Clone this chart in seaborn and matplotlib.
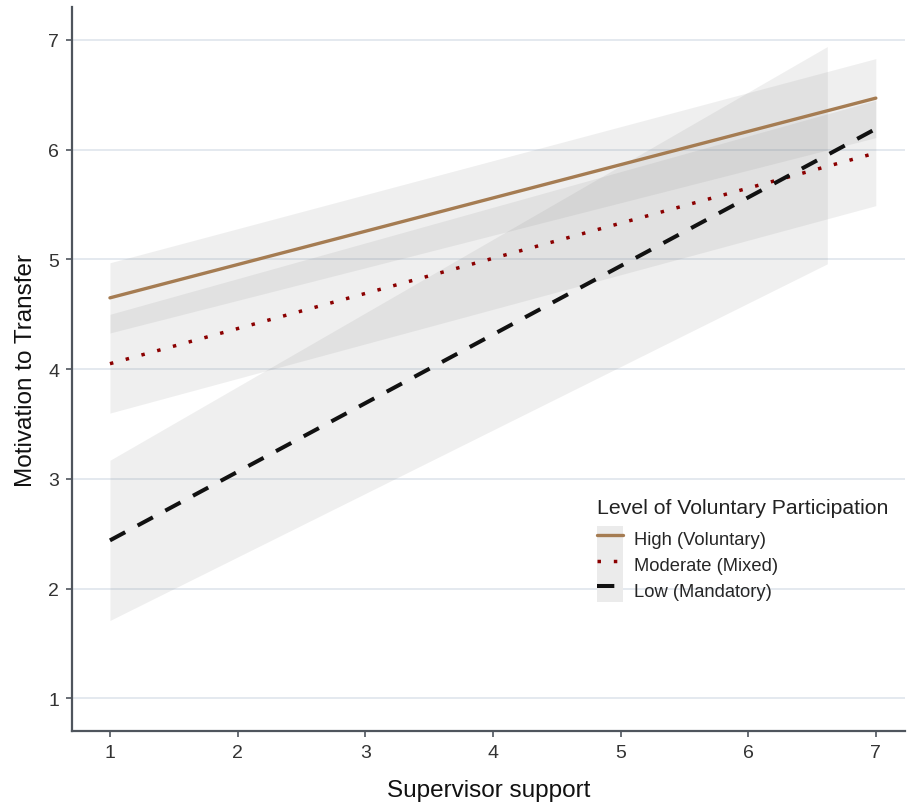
import pandas as pd
import matplotlib
matplotlib.use("Agg")
import matplotlib.pyplot as plt
import seaborn as sns
from matplotlib.patches import Patch
from matplotlib.lines import Line2D

# fitted lines at the ends of the support scale
support = [1, 7]
high_fit = [4.65, 6.47]
moderate_fit = [4.05, 5.97]
low_fit = [2.44, 6.19]

# confidence bands
high_band_x = [1, 7]
high_lo = [4.33, 6.11]
high_hi = [4.97, 6.83]
moderate_band_x = [1, 7]
moderate_lo = [3.60, 5.49]
moderate_hi = [4.50, 6.45]
low_band_x = [1, 6.62]
low_lo = [1.71, 4.96]
low_hi = [3.17, 6.94]

groups = ["High (Voluntary)", "Moderate (Mixed)", "Low (Mandatory)"]
colors = {"High (Voluntary)": "#a57c52", "Moderate (Mixed)": "#8b0000", "Low (Mandatory)": "#111111"}
dashes = {"High (Voluntary)": "", "Moderate (Mixed)": (1, 3.7), "Low (Mandatory)": (4.3, 3.5)}
widths = {"High (Voluntary)": 2.4, "Moderate (Mixed)": 2.5, "Low (Mandatory)": 2.9}

df = pd.DataFrame({
    "Supervisor support": support * 3,
    "Motivation to Transfer": high_fit + moderate_fit + low_fit,
    "Group": [g for g in groups for _ in support],
})

sns.set_theme(style="white")
plt.rcParams["font.family"] = ["Liberation Sans", "DejaVu Sans"]

fig = plt.figure(figsize=(9.07, 8.03), dpi=100)
ax = fig.add_axes([0.079, 0.088, 0.919, 0.902])

band_kw = dict(color="grey", alpha=0.12, linewidth=0)
ax.fill_between(high_band_x, high_lo, high_hi, **band_kw)
ax.fill_between(moderate_band_x, moderate_lo, moderate_hi, **band_kw)
ax.fill_between(low_band_x, low_lo, low_hi, **band_kw)

sns.lineplot(data=df, x="Supervisor support", y="Motivation to Transfer",
             hue="Group", style="Group", palette=colors, dashes=dashes,
             linewidth=2.4, ax=ax, legend=False)
for ln, g in zip(ax.lines, groups):
    ln.set_linewidth(widths[g])

ax.set_xlim(0.7, 7.23)
ax.set_ylim(0.7, 7.3)
ax.set_xticks(range(1, 8))
ax.set_yticks(range(1, 8))
ax.yaxis.grid(True, color="#dce3eb", linewidth=1.1)
ax.xaxis.grid(False)
ax.set_axisbelow(True)
for s in ["top", "right"]:
    ax.spines[s].set_visible(False)
for s in ["left", "bottom"]:
    ax.spines[s].set_color("#4f555d")
    ax.spines[s].set_linewidth(1.6)
ax.tick_params(axis="both", which="both", length=4, width=1.2, color="#4f555d",
               labelsize=14, labelcolor="#333333", pad=5, bottom=True, left=True)
ax.set_xlabel("Supervisor support", fontsize=17.5, color="#111111", labelpad=13)
ax.set_ylabel("Motivation to Transfer", fontsize=17.5, color="#111111", labelpad=8)

handles = []
for g in groups:
    ln = Line2D([], [], color=colors[g], linewidth=widths[g])
    if dashes[g]:
        ln.set_dashes(dashes[g])
    handles.append((Patch(facecolor="#ebebeb", edgecolor="none"), ln))

ax.text(0.630, 0.309, "Level of Voluntary Participation", transform=ax.transAxes,
        fontsize=15.3, color="#222222", ha="left", va="center")
ax.legend(handles, groups, loc="upper left", bbox_to_anchor=(0.630, 0.284),
          frameon=False, fontsize=13.2, handlelength=1.44, handleheight=1.77,
          labelspacing=0, handletextpad=0.6, borderaxespad=0, borderpad=0)

fig.savefig("out.png", dpi=100)
